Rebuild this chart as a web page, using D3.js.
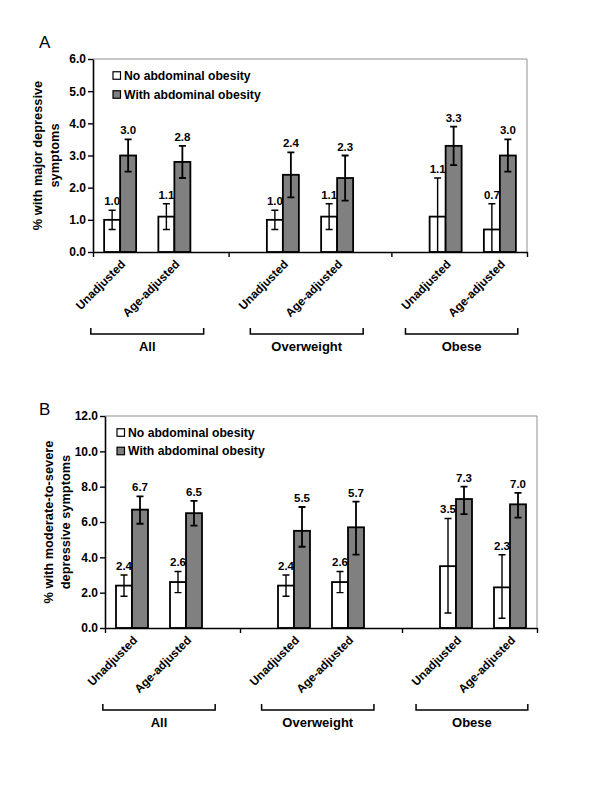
<!DOCTYPE html>
<html>
<head>
<meta charset="utf-8">
<script src="https://cdn.jsdelivr.net/npm/d3@7/dist/d3.min.js"></script>
<style>
  body { margin: 0; background: #fff; }
  text { font-family: "Liberation Sans", Arial, sans-serif; }
</style>
</head>
<body>
<script>
// ---- data ----
const categories = ["Unadjusted", "Age-adjusted", "Unadjusted", "Age-adjusted", "Unadjusted", "Age-adjusted"];
const categorySlots = [0, 1, 3, 4, 6, 7];
const groups = ["All", "Overweight", "Obese"];
const groupSpans = [[-0.04, 2.04], [2.9, 4.98], [5.76, 7.83]];
const seriesNames = ["No abdominal obesity", "With abdominal obesity"];

// Panel A: major depressive symptoms (%)
const aNo = [1.0, 1.1, 1.0, 1.1, 1.1, 0.7];
const aNoLo = [0.7, 0.7, 0.7, 0.7, 0.0, 0.0];
const aNoHi = [1.3, 1.5, 1.3, 1.5, 2.3, 1.5];
const aWith = [3.0, 2.8, 2.4, 2.3, 3.3, 3.0];
const aWithLo = [2.5, 2.3, 1.7, 1.6, 2.7, 2.5];
const aWithHi = [3.5, 3.3, 3.1, 3.0, 3.9, 3.5];
const aTicks = [0, 1, 2, 3, 4, 5, 6];

// Panel B: moderate-to-severe depressive symptoms (%)
const bNo = [2.4, 2.6, 2.4, 2.6, 3.5, 2.3];
const bNoLo = [1.8, 2.0, 1.8, 2.0, 0.85, 0.55];
const bNoHi = [3.0, 3.2, 3.0, 3.2, 6.2, 4.15];
const bWith = [6.7, 6.5, 5.5, 5.7, 7.3, 7.0];
const bWithLo = [5.9, 5.8, 4.6, 4.15, 6.45, 6.25];
const bWithHi = [7.45, 7.2, 6.85, 7.15, 8.0, 7.65];
const bTicks = [0, 2, 4, 6, 8, 10, 12];

// ---- drawing ----
const svg = d3.select("body").append("svg").attr("width", 600).attr("height", 800);
svg.append("rect").attr("width", 600).attr("height", 800).attr("fill", "#fff");

function drawPanel(cfg) {
  const g = svg.append("g");
  const x = d3.scaleLinear().domain([0, 8]).range([cfg.x0, cfg.x1]);
  const y = d3.scaleLinear().domain([0, cfg.max]).range([cfg.yBottom, cfg.yTop]);
  const bw = 16;

  // frame (top/right)
  g.append("path")
    .attr("d", `M${cfg.x0},${cfg.yTop}H${cfg.x1}V${cfg.yBottom}`)
    .attr("fill", "none").attr("stroke", "#8f8f8f").attr("stroke-width", 1);

  // panel letter
  g.append("text").attr("x", cfg.letterX).attr("y", cfg.letterY)
    .attr("font-size", 17).text(cfg.letter);

  const rows = categories.map((c, i) => ({
    c, slot: categorySlots[i],
    no: cfg.no[i], noLo: cfg.noLo[i], noHi: cfg.noHi[i],
    w: cfg.w[i], wLo: cfg.wLo[i], wHi: cfg.wHi[i]
  }));

  rows.forEach(d => {
    const cx = x(d.slot + 0.5);
    const bars = [
      { v: d.no, lo: d.noLo, hi: d.noHi, fill: "#ffffff", bx: cx - bw, ew: 1.4 },
      { v: d.w, lo: d.wLo, hi: d.wHi, fill: "#808080", bx: cx, ew: 1.8 }
    ];
    bars.forEach(b => {
      g.append("rect")
        .attr("x", b.bx).attr("y", y(b.v))
        .attr("width", bw).attr("height", y(0) - y(b.v))
        .attr("fill", b.fill).attr("stroke", "#000").attr("stroke-width", 1.8);
    });
    bars.forEach(b => {
      const ex = b.bx + bw / 2;
      g.append("path")
        .attr("d", `M${ex},${y(b.lo)}V${y(b.hi)}M${ex - 3.5},${y(b.hi)}H${ex + 3.5}M${ex - 3.5},${y(b.lo)}H${ex + 3.5}`)
        .attr("stroke", "#000").attr("stroke-width", b.ew).attr("fill", "none");
      g.append("text")
        .attr("x", ex).attr("y", y(b.hi) - 5)
        .attr("text-anchor", "middle").attr("font-size", 11.5).attr("font-weight", "bold")
        .text(d3.format(".1f")(b.v));
    });
  });

  // y axis
  const yAxis = d3.axisLeft(y).tickValues(cfg.ticks).tickFormat(d3.format(".1f"))
    .tickSize(5).tickSizeOuter(0).tickPadding(2);
  const ya = g.append("g").attr("transform", `translate(${cfg.x0},0)`).call(yAxis);
  ya.select(".domain").attr("stroke", "#000").attr("stroke-width", 1.6);
  ya.selectAll(".tick line").attr("stroke", "#000").attr("stroke-width", 1.4);
  ya.selectAll(".tick text").attr("font-size", 12).attr("font-weight", "bold")
    .attr("fill", "#000").style("font-family", "'Liberation Sans', Arial, sans-serif");

  // x axis
  const xAxis = d3.axisBottom(x).tickValues([0, 2.5, 5.5, 8]).tickFormat("")
    .tickSize(5).tickSizeOuter(0);
  const xa = g.append("g").attr("transform", `translate(0,${cfg.yBottom})`).call(xAxis);
  xa.select(".domain").attr("stroke", "#000").attr("stroke-width", 1.6);
  xa.selectAll(".tick line").attr("stroke", "#000").attr("stroke-width", 1.4);

  // category labels
  rows.forEach(d => {
    const cx = x(d.slot + 0.5);
    g.append("text")
      .attr("transform", `translate(${cx + 6},${cfg.yBottom + 13}) rotate(-45)`)
      .attr("text-anchor", "end").attr("font-size", 11.8).attr("font-weight", "bold")
      .text(d.c);
  });

  // group brackets
  groups.forEach((name, i) => {
    const [s0, s1] = groupSpans[i];
    const bx0 = x(s0), bx1 = x(s1), by = cfg.yBottom + 82;
    g.append("path")
      .attr("d", `M${bx0},${by - 6}V${by}H${bx1}V${by - 6}`)
      .attr("fill", "none").attr("stroke", "#000").attr("stroke-width", 1.5);
    g.append("text")
      .attr("x", (bx0 + bx1) / 2).attr("y", by + 17)
      .attr("text-anchor", "middle").attr("font-size", 13).attr("font-weight", "bold")
      .text(name);
  });

  // y title
  const ym = (cfg.yTop + cfg.yBottom) / 2;
  cfg.title.forEach((t, i) => {
    g.append("text")
      .attr("transform", `translate(${cfg.titleX[i]},${ym}) rotate(-90)`)
      .attr("text-anchor", "middle").attr("dy", "0.35em")
      .attr("font-size", 12.8).attr("font-weight", "bold")
      .text(t);
  });

  // legend
  seriesNames.forEach((s, i) => {
    const ly = cfg.legendY[i];
    g.append("rect").attr("x", cfg.legendX).attr("y", ly - 3.75)
      .attr("width", 7.5).attr("height", 7.5)
      .attr("fill", i === 0 ? "#fff" : "#808080").attr("stroke", "#000").attr("stroke-width", 1.2);
    g.append("text").attr("x", cfg.legendX + 11).attr("y", ly).attr("dy", "0.36em")
      .attr("font-size", 12.2).attr("font-weight", "bold").text(s);
  });
}

drawPanel({
  letter: "A", letterX: 39, letterY: 48,
  x0: 93, x1: 527, yTop: 59, yBottom: 252, max: 6, ticks: aTicks,
  no: aNo, noLo: aNoLo, noHi: aNoHi, w: aWith, wLo: aWithLo, wHi: aWithHi,
  title: ["% with major depressive", "symptoms"], titleX: [38, 55],
  legendX: 113, legendY: [75.5, 94.5]
});

drawPanel({
  letter: "B", letterX: 39, letterY: 415,
  x0: 105, x1: 537, yTop: 416, yBottom: 628, max: 12, ticks: bTicks,
  no: bNo, noLo: bNoLo, noHi: bNoHi, w: bWith, wLo: bWithLo, wHi: bWithHi,
  title: ["% with moderate-to-severe", "depressive symptoms"], titleX: [49, 66],
  legendX: 117, legendY: [432.5, 451]
});
</script>
</body>
</html>
